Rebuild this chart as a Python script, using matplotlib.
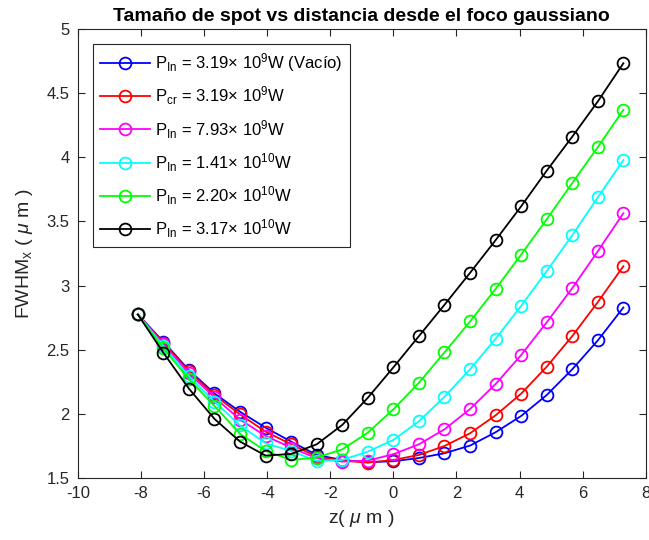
import numpy as np
import matplotlib
matplotlib.use('Agg')
import matplotlib.pyplot as plt

plt.rcParams['font.family'] = ['Liberation Sans', 'DejaVu Sans']
plt.rcParams['mathtext.fontset'] = 'custom'
plt.rcParams['mathtext.rm'] = 'Liberation Sans'
plt.rcParams['mathtext.it'] = 'Liberation Sans:italic'
plt.rcParams['mathtext.sf'] = 'Liberation Sans'
plt.rcParams['axes.unicode_minus'] = False

# posiciones z (um)
z = np.array([-8.1, -7.29, -6.48, -5.67, -4.86, -4.05, -3.24, -2.43, -1.62, -0.81,
              0.0, 0.81, 1.62, 2.43, 3.24, 4.05, 4.86, 5.67, 6.48, 7.29])

fwhm_vacio = [2.775, 2.562, 2.341, 2.159, 2.016, 1.892, 1.783, 1.679, 1.640, 1.622,
              1.630, 1.655, 1.692, 1.752, 1.856, 1.983, 2.146, 2.347, 2.572, 2.829]
fwhm_pcr = [2.775, 2.554, 2.333, 2.146, 1.995, 1.861, 1.762, 1.666, 1.635, 1.619,
            1.640, 1.679, 1.749, 1.848, 1.988, 2.157, 2.367, 2.606, 2.871, 3.151]
fwhm_793 = [2.775, 2.543, 2.315, 2.128, 1.955, 1.827, 1.736, 1.653, 1.627, 1.635,
            1.685, 1.762, 1.879, 2.037, 2.232, 2.458, 2.713, 2.980, 3.268, 3.564]
fwhm_141 = [2.775, 2.528, 2.294, 2.094, 1.910, 1.770, 1.710, 1.632, 1.640, 1.705,
            1.796, 1.942, 2.133, 2.347, 2.585, 2.842, 3.112, 3.393, 3.688, 3.979]
fwhm_220 = [2.775, 2.510, 2.269, 2.061, 1.843, 1.710, 1.640, 1.658, 1.723, 1.853,
            2.035, 2.242, 2.479, 2.720, 2.974, 3.242, 3.517, 3.800, 4.080, 4.371]
fwhm_317 = [2.775, 2.476, 2.196, 1.960, 1.783, 1.674, 1.687, 1.762, 1.913, 2.125,
            2.362, 2.606, 2.850, 3.099, 3.354, 3.618, 3.896, 4.161, 4.436, 4.734]

etiquetas = [r'P$_{\mathrm{In}}$ = 3.19$\times$ 10$^9$W (Vacío)',
             r'P$_{\mathrm{cr}}$ = 3.19$\times$ 10$^9$W',
             r'P$_{\mathrm{In}}$ = 7.93$\times$ 10$^9$W',
             r'P$_{\mathrm{In}}$ = 1.41$\times$ 10$^{10}$W',
             r'P$_{\mathrm{In}}$ = 2.20$\times$ 10$^{10}$W',
             r'P$_{\mathrm{In}}$ = 3.17$\times$ 10$^{10}$W']
series = [fwhm_vacio, fwhm_pcr, fwhm_793, fwhm_141, fwhm_220, fwhm_317]
colores = ['#0000ff', '#ff0000', '#ff00ff', '#00ffff', '#00ff00', '#000000']

fig = plt.figure(figsize=(6.49, 5.40), dpi=100)
ax = fig.add_axes([0.120, 0.115, 0.875, 0.831])

for y, lab, c in zip(series, etiquetas, colores):
    ax.plot(z, y, '-o', color=c, label=lab, linewidth=1.3,
            markersize=8.5, markerfacecolor='none', markeredgewidth=1.3)

gris = '#262626'
ax.set_xlim(-10, 8)
ax.set_ylim(1.5, 5)
ax.set_xticks(np.arange(-10, 9, 2))
ax.set_yticks(np.arange(1.5, 5.01, 0.5))
ax.set_yticklabels(['1.5', '2', '2.5', '3', '3.5', '4', '4.5', '5'])
ax.tick_params(direction='in', top=True, right=True, length=5, width=0.8,
               colors=gris, labelsize=12, pad=6)
for s in ax.spines.values():
    s.set_color(gris)
    s.set_linewidth(0.8)

ax.set_title('Tamaño de spot vs distancia desde el foco gaussiano',
             fontsize=14, fontweight='bold', pad=6)
ax.set_xlabel(r'z( $\mu$ m )', fontsize=14, color=gris, labelpad=5)
ax.set_ylabel(r'FWHM$_{\mathrm{x}}$ ( $\mu$ m )', fontsize=14, color=gris, labelpad=8)

leg = ax.legend(loc='upper left', bbox_to_anchor=(0.026, 0.967), borderaxespad=0,
                fontsize=12, handlelength=3.0, labelspacing=0.63, borderpad=0.45,
                handletextpad=0.3, fancybox=False, framealpha=1)
leg.get_frame().set_edgecolor(gris)
leg.get_frame().set_linewidth(0.8)

fig.savefig('out.png', dpi=100)
